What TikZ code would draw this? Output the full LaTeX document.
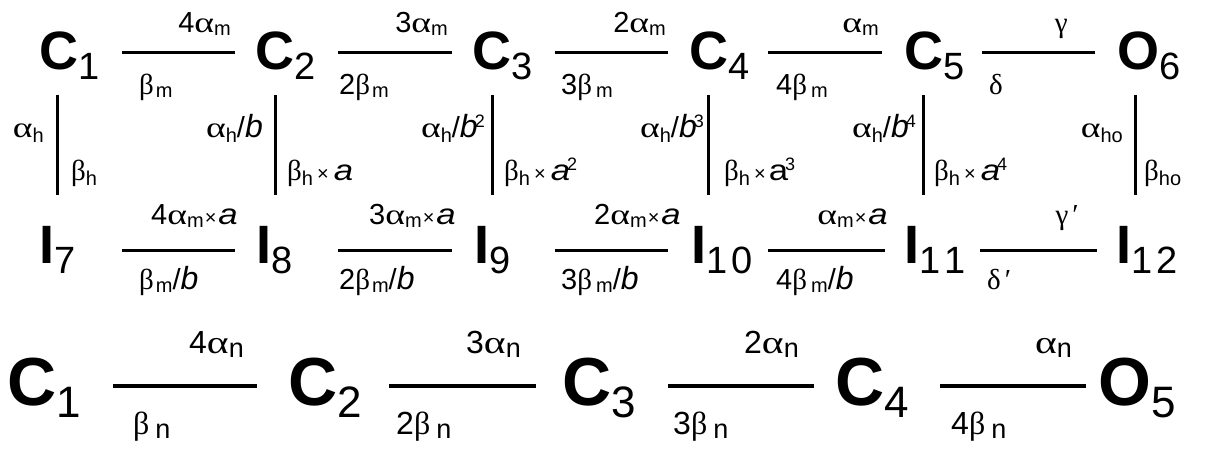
\documentclass[tikz,border=0pt]{standalone}
\usepackage{fontspec}
\setmainfont{Liberation Sans}
\newfontfamily\gr{Liberation Serif}
\newfontfamily\gra{Liberation Serif}[FakeStretch=1.3]
\newfontfamily\wide{Liberation Sans}[FakeStretch=1.2]
\newcommand\myA{{\gra α}}
\newcommand\myB{{\gr β}}
\newcommand\myG{{\gr γ}}
\newcommand\myD{{\gr δ}}
\newcommand\ia{{\wide\itshape a}}
\newcommand\ib{{\fontsize{32}{32}\selectfont\itshape b}}
\newcommand\Sb[1]{\raisebox{-10pt}{\fontsize{38}{40}\selectfont\mdseries #1}}
\newcommand\Sbb[1]{\raisebox{-12pt}{\fontsize{44}{46}\selectfont\mdseries #1}}
\newcommand\sm[1]{\raisebox{-3pt}{\fontsize{20}{21}\selectfont #1}}
\newcommand\sh[1]{\raisebox{-5pt}{\fontsize{20}{21}\selectfont #1}}
\newcommand\sn[1]{\raisebox{-4pt}{\fontsize{27}{28}\selectfont #1}}
\newcommand\spr[1]{\kern-3pt\raisebox{10pt}{\fontsize{18}{18}\selectfont #1}}
\newcommand\ti{\kern1pt{\fontsize{20}{20}\selectfont ×}\kern2pt}
\newcommand\pr{\kern4pt{\gr ′}}
\begin{document}
\begin{tikzpicture}[x=1pt,y=-1pt,
  st/.style={inner sep=0pt, anchor=base west, font=\fontsize{54}{60}\selectfont\bfseries},
  stb/.style={inner sep=0pt, anchor=base west, font=\fontsize{68}{72}\selectfont\bfseries},
  lab/.style={inner sep=0pt, font=\fontsize{29}{30}\selectfont},
  labn/.style={inner sep=0pt, font=\fontsize{32}{34}\selectfont},
  up/.style={anchor=base east}, dn/.style={anchor=base west},
  hl/.style={line width=3pt}, hlb/.style={line width=3.5pt}, vl/.style={line width=3pt}]
\useasboundingbox (0,0) rectangle (1210,449);
% ---- row 1 states
\node[st] (c1) at (39.5,70) {C\Sb{1}};
\node[st] (c2) at (255.5,70) {C\Sb{2}};
\node[st] (c3) at (472.5,70) {C\Sb{3}};
\node[st] (c4) at (689.5,70) {C\Sb{4}};
\node[st] (c5) at (904.5,70) {C\Sb{5}};
\node[st] (o6) at (1117.5,70) {O\Sb{6}};
% ---- row 2 states
\node[st] (i7) at (39,263) {I\Sb{7}};
\node[st] (i8) at (256,263) {I\Sb{8}};
\node[st] (i9) at (474,263) {I\Sb{9}};
\node[st] (i10) at (691,263) {I\Sb{1\kern4pt0}};
\node[st] (i11) at (904,263) {I\Sb{1\kern4pt1}};
\node[st] (i12) at (1116,263) {I\Sb{1\kern4pt2}};
% ---- row 3 states
\node[stb] (n1) at (7,405) {C\Sbb{1}};
\node[stb] (n2) at (288,405) {C\Sbb{2}};
\node[stb] (n3) at (562,405) {C\Sbb{3}};
\node[stb] (n4) at (835,405) {C\Sbb{4}};
\node[stb] (n5) at (1098,405) {O\Sbb{5}};
% ---- horizontal connectors
\foreach \n/\xa/\xb/\y in {1/122/235/53, 2/338/452/53, 3/555/668/53, 4/768/882/53, 5/982/1095/53,
  6/122/235/250, 7/338/452/250, 8/555/668/250, 9/768/885/250, 10/980/1097/250}{
  \coordinate (h\n a) at (\xa,\y); \coordinate (h\n b) at (\xb,\y);
  \draw[hl] (h\n a) -- (h\n b);}
\foreach \n/\xa/\xb in {11/113/257, 12/389/536, 13/668/814, 14/940/1086}{
  \coordinate (h\n a) at (\xa,386); \coordinate (h\n b) at (\xb,386);
  \draw[hlb] (h\n a) -- (h\n b);}
% ---- vertical connectors
\foreach \n/\x in {1/57, 2/275, 3/492, 4/708, 5/923, 6/1135}{
  \coordinate (v\n a) at (\x,95); \coordinate (v\n b) at (\x,195);
  \draw[vl] (v\n a) -- (v\n b);}
% ---- row 1 labels
\node[lab,up] (u1) at (231,33) {4\myA\sm{m}};
\node[lab,dn] (d1) at (139,95) {\myB\kern2pt\sm{m}};
\node[lab,up] (u2) at (448,33) {3\myA\sm{m}};
\node[lab,dn] (d2) at (339,95) {2\myB\kern2pt\sm{m}};
\node[lab,up] (u3) at (666,33) {2\myA\sm{m}};
\node[lab,dn] (d3) at (561,95) {3\myB\kern4pt\sm{m}};
\node[lab,up] (u4) at (879,33) {\myA\sm{m}};
\node[lab,dn] (d4) at (776,95) {4\myB\kern4pt\sm{m}};
\node[lab,up] (u5) at (1068,33) {\myG};
\node[lab,dn] (d5) at (989,95) {\myD};
% ---- row 2 labels
\node[lab,up] (u6) at (238,225) {4\myA\sm{m}\ti\ia};
\node[lab,dn] (d6) at (139,289) {\myB\kern2pt\sm{m}/\ib};
\node[lab,up] (u7) at (456,225) {3\myA\sm{m}\ti\ia};
\node[lab,dn] (d7) at (339,289) {2\myB\kern2pt\sm{m}/\ib};
\node[lab,up] (u8) at (681,225) {2\myA\sm{m}\ti\ia};
\node[lab,dn] (d8) at (561,289) {3\myB\kern4pt\sm{m}/\ib};
\node[lab,up] (u9) at (888,225) {\myA\sm{m}\ti\ia};
\node[lab,dn] (d9) at (776,289) {4\myB\kern4pt\sm{m}/\ib};
\node[lab,up] (u10) at (1079,225) {\myG\pr};
\node[lab,dn] (d10) at (987,289) {\myD\pr};
% ---- vertical labels
\node[lab,up] (va1) at (44,138) {\myA\sh{h}};
\node[lab,dn] (vb1) at (71,181) {\myB\sh{h}};
\node[lab,up] (va2) at (263,138) {\myA\sh{h}/\ib};
\node[lab,dn] (vb2) at (287,181) {\myB\sh{h}\kern3pt\ti\kern3pt\ia};
\node[lab,up] (va3) at (485,138) {\myA\sh{h}/\ib\spr{2}};
\node[lab,dn] (vb3) at (504,181) {\myB\sh{h}\kern3pt\ti\kern3pt\ia\spr{2}};
\node[lab,up] (va4) at (704,138) {\myA\sh{h}/\ib\spr{3}};
\node[lab,dn] (vb4) at (724,181) {\myB\sh{h}\kern3pt\ti\kern1pt{\wide a}\spr{3}};
\node[lab,up] (va5) at (916,138) {\myA\sh{h}/\ib\spr{4}};
\node[lab,dn] (vb5) at (934,181) {\myB\sh{h}\kern3pt\ti\kern3pt\ia\spr{4}};
\node[lab,up] (va6) at (1123,138) {\myA\sh{ho}};
\node[lab,dn] (vb6) at (1144,181) {\myB\sh{ho}};
% ---- row 3 labels
\node[labn,up] (u11) at (244,353) {4\myA\sn{n}};
\node[labn,dn] (d11) at (133,434) {\myB\kern6pt\sn{n}};
\node[labn,up] (u12) at (521,353) {3\myA\sn{n}};
\node[labn,dn] (d12) at (396,434) {2\myB\kern6pt\sn{n}};
\node[labn,up] (u13) at (799,353) {2\myA\sn{n}};
\node[labn,dn] (d13) at (673,434) {3\myB\kern6pt\sn{n}};
\node[labn,up] (u14) at (1072,353) {\myA\sn{n}};
\node[labn,dn] (d14) at (951,434) {4\myB\kern6pt\sn{n}};
\end{tikzpicture}
\end{document}
